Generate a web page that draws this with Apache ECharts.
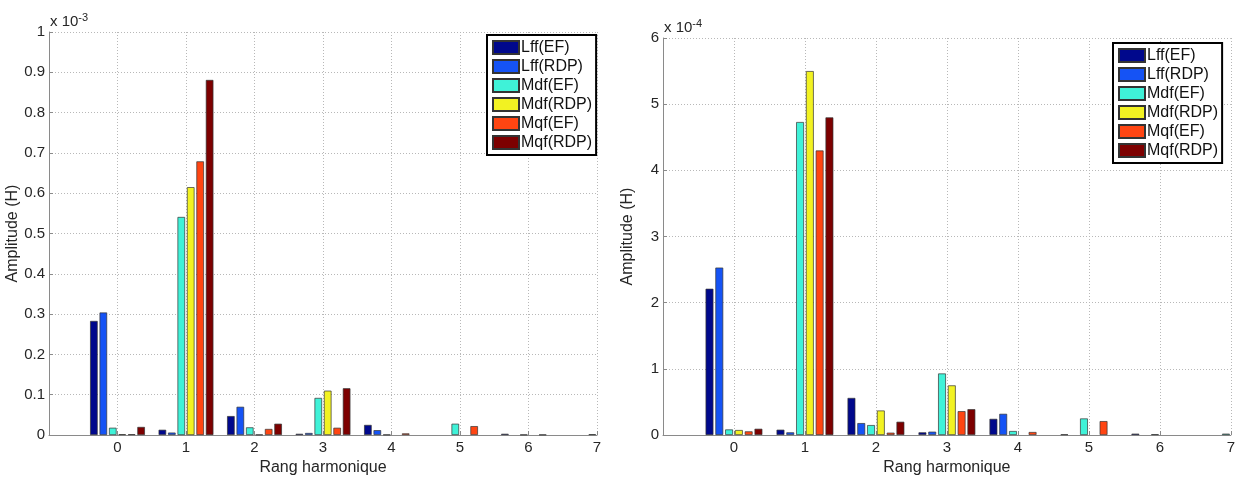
<!DOCTYPE html>
<html>
<head>
<meta charset="utf-8">
<script src="https://cdn.jsdelivr.net/npm/echarts@6/dist/echarts.min.js"></script>
<style>
html,body{margin:0;padding:0;background:#fff;}
#c{width:1238px;height:481px;}
</style>
</head>
<body>
<div id="c"></div>
<script>
// ---- data ----
const categories = [0, 1, 2, 3, 4, 5, 6, 7];
const seriesNames = ['Lff(EF)', 'Lff(RDP)', 'Mdf(EF)', 'Mdf(RDP)', 'Mqf(EF)', 'Mqf(RDP)'];

// Left chart, values in units of 1e-3 H
const leftLffEF   = [0.283, 0.013, 0.047, 0.003, 0.025, 0, 0.003, 0];
const leftLffRDP  = [0.304, 0.006, 0.070, 0.005, 0.012, 0, 0, 0];
const leftMdfEF   = [0.018, 0.541, 0.019, 0.092, 0.001, 0.028, 0.001, 0.002];
const leftMdfRDP  = [0.002, 0.615, 0.001, 0.110, 0, 0, 0, 0];
const leftMqfEF   = [0.002, 0.679, 0.015, 0.018, 0.004, 0.022, 0.001, 0];
const leftMqfRDP  = [0.020, 0.881, 0.028, 0.116, 0, 0, 0, 0];

// Right chart, values in units of 1e-4 H
const rightLffEF  = [2.21, 0.08, 0.56, 0.04, 0.244, 0.01, 0.02, 0];
const rightLffRDP = [2.53, 0.04, 0.18, 0.05, 0.32, 0, 0, 0];
const rightMdfEF  = [0.084, 4.73, 0.15, 0.93, 0.06, 0.25, 0.012, 0.02];
const rightMdfRDP = [0.075, 5.50, 0.37, 0.75, 0, 0, 0, 0];
const rightMqfEF  = [0.055, 4.30, 0.035, 0.36, 0.045, 0.21, 0, 0];
const rightMqfRDP = [0.094, 4.80, 0.20, 0.39, 0, 0, 0, 0];

const leftValues  = [leftLffEF, leftLffRDP, leftMdfEF, leftMdfRDP, leftMqfEF, leftMqfRDP];
const rightValues = [rightLffEF, rightLffRDP, rightMdfEF, rightMdfRDP, rightMqfEF, rightMqfRDP];

const xTickMin = -1, xTickMax = 7;
const leftYMax = 1, leftYStep = 0.1;
const rightYMax = 6, rightYStep = 1;
const leftExponent = '-3', rightExponent = '-4';
const yName = 'Amplitude (H)';
const xName = 'Rang harmonique';

// ---- styles ----
const colors = ['#00088c', '#1553f5', '#3ff2d8', '#f2f222', '#ff4512', '#7d0000'];
const FONT = 'Liberation Sans, Arial, sans-serif';
const txt = '#262626';

function xAxisCfg(gi) {
  return {
    type: 'value', gridIndex: gi, min: xTickMin, max: xTickMax, interval: 1,
    name: xName, nameLocation: 'middle', nameGap: 25,
    nameTextStyle: {fontFamily: FONT, fontSize: 16, color: txt},
    axisLine: {show: true, onZero: false, lineStyle: {color: '#8a8a8a', width: 1}},
    axisTick: {show: true, inside: true, length: 4, lineStyle: {color: '#8a8a8a'}},
    axisLabel: {fontFamily: FONT, fontSize: 15, color: txt, margin: 5,
      formatter: v => (v < 0 ? '' : String(v))},
    splitLine: {show: true, lineStyle: {type: [1, 2], color: '#b8b8b8', width: 1}}
  };
}
function yAxisCfg(gi, max, step, dec) {
  return {
    type: 'value', gridIndex: gi, min: 0, max: max, interval: step,
    name: yName, nameLocation: 'middle', nameGap: 27, nameRotate: 90,
    nameTextStyle: {fontFamily: FONT, fontSize: 16, color: txt},
    axisLine: {show: true, onZero: false, lineStyle: {color: '#8a8a8a', width: 1}},
    axisTick: {show: true, inside: true, length: 4, lineStyle: {color: '#8a8a8a'}},
    axisLabel: {fontFamily: FONT, fontSize: 15, color: txt, margin: 4,
      formatter: v => String(+v.toFixed(dec))},
    splitLine: {show: true, lineStyle: {type: [1, 2], color: '#b8b8b8', width: 1}}
  };
}
function legendCfg(left, top) {
  return {
    show: true, orient: 'vertical', left: left, top: top,
    data: seriesNames, icon: 'rect', itemWidth: 26, itemHeight: 13, itemGap: 0,
    padding: [3, 4, 3, 5], borderColor: '#000', borderWidth: 2, backgroundColor: '#fff',
    textStyle: {fontFamily: FONT, fontSize: 16, color: '#111', lineHeight: 19, padding: [0, 0, 0, -3]},
    selectedMode: false
  };
}

const series = [];
[leftValues, rightValues].forEach((vals, gi) => {
  vals.forEach((arr, si) => {
    series.push({
      type: 'bar', name: seriesNames[si], xAxisIndex: gi, yAxisIndex: gi,
      data: categories.map((c, i) => [c, arr[i] === 0 ? null : arr[i]]),
      barGap: '25%', barCategoryGap: '20%', clip: true,
      itemStyle: {color: colors[si], borderColor: '#333', borderWidth: 0.7},
      emphasis: {disabled: true}, animation: false
    });
  });
});

const chart = echarts.init(document.getElementById('c'), null, {renderer: 'canvas'});
chart.setOption({
  backgroundColor: '#fff',
  animation: false,
  grid: [
    {left: 49, top: 32, width: 548, height: 407},
    {left: 663, top: 38, width: 570, height: 403}
  ],
  xAxis: [xAxisCfg(0), xAxisCfg(1)],
  yAxis: [yAxisCfg(0, leftYMax, leftYStep, 1), yAxisCfg(1, rightYMax, rightYStep, 0)],
  legend: [legendCfg(487, 35), legendCfg(1113, 43)],
  series: series,
  graphic: [
    {type: 'text', left: 50, top: 12, style: {text: 'x 10{s|' + leftExponent + '}', fontFamily: FONT, fontSize: 15, fill: txt,
      rich: {s: {fontFamily: FONT, fontSize: 11, fill: txt, verticalAlign: 'top', padding: [0, 0, 8, 0]}}}},
    {type: 'text', left: 664, top: 18, style: {text: 'x 10{s|' + rightExponent + '}', fontFamily: FONT, fontSize: 15, fill: txt,
      rich: {s: {fontFamily: FONT, fontSize: 11, fill: txt, verticalAlign: 'top', padding: [0, 0, 8, 0]}}}}
  ]
});
</script>
</body>
</html>
